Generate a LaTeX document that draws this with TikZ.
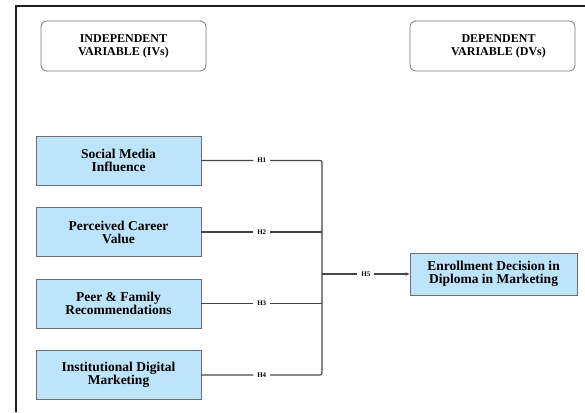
\documentclass[tikz,border=0pt]{standalone}
\usepackage{fontspec}
\setmainfont{Liberation Serif}
\usetikzlibrary{positioning, calc, arrows.meta}

\begin{document}
\begin{tikzpicture}[x=1pt, y=-1pt,
        ivbox/.style={draw=boxgray, fill=boxblue, line width=0.9pt, minimum width=165pt, minimum height=49pt,
            align=center, font=\fontsize{13.5}{13}\selectfont\bfseries},
        headbox/.style={draw=headgray, rounded corners=6pt, line width=0.8pt, minimum width=165pt, minimum height=50pt,
            align=center, font=\fontsize{12}{13}\selectfont\bfseries},
        link/.style={draw=linegray, line width=1.2pt},
        hlab/.style={fill=white, inner xsep=4pt, inner ysep=2pt, font=\fontsize{7}{8}\selectfont\bfseries}]
        % Colours
        \definecolor{boxblue}{RGB}{189, 228, 250}
        \definecolor{boxgray}{RGB}{110, 110, 110}
        \definecolor{headgray}{RGB}{120, 120, 120}
        \definecolor{linegray}{RGB}{70, 70, 70}
        \definecolor{framegray}{RGB}{30, 30, 30}

        \useasboundingbox (0, 0) rectangle (585, 412);

        % Outer frame (left and top edge)
        \draw[line width=2pt, draw=framegray] (16, 412) -- (16, 6) -- (585, 6);

        % 1. Column headers
        \node[headbox] (ivhead) at (123.5, 46) {INDEPENDENT\\VARIABLE (IVs)};
        \node[headbox] (dvhead) at (492.5, 46) {\hspace*{12pt}DEPENDENT\\\hspace*{12pt}VARIABLE (DVs)};

        % 2. Independent variables
        \foreach \txt [count=\i] in {{Social Media\\Influence}, {Perceived Career\\Value},
                {Peer \& Family\\Recommendations}, {Institutional Digital\\Marketing}} {
            \node[ivbox] (iv\i) at (118.5, 89 + 71.5*\i) {\txt};
        }

        % 3. Dependent variable
        \node[ivbox, minimum width=167pt, minimum height=42pt] (dv) at (493.5, 274) {Enrollment Decision in\\Diploma in Marketing};

        % 4. Hypothesis links
        \coordinate (bus) at (322, 274);
        \draw[link, rounded corners=2pt] (iv1.east) -- node[hlab] {H1} (iv1.east -| bus)
            -- (iv4.east -| bus) -- node[hlab] {H4} (iv4.east);
        \foreach \i in {2, 3} {
            \draw[link] (iv\i.east) -- node[hlab] {H\i} (iv\i.east -| bus);
        }
        \draw[link, -{Stealth[length=4pt, width=3.5pt]}] (bus) -- node[hlab] {H5} (dv.west);

    \end{tikzpicture}
\end{document}
